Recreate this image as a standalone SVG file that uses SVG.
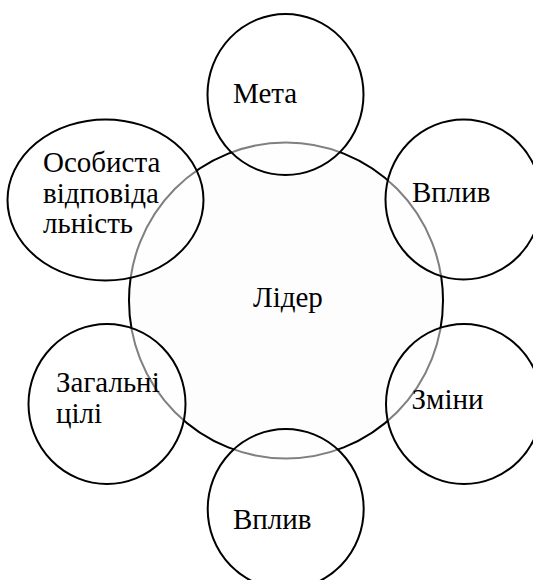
<svg xmlns="http://www.w3.org/2000/svg" width="533" height="580" viewBox="0 0 533 580" font-family="'Liberation Serif', serif" font-size="29">
<style>
.big{fill:#fdfdfd;stroke:#000;stroke-width:2}
.sm{fill:#fff;fill-opacity:0.5;stroke:#000;stroke-width:2}
</style>
<rect width="533" height="580" fill="#fff"/>
<g id="leader">
<ellipse class="big" cx="286" cy="300.5" rx="157" ry="158"/>
<text x="253" y="307" font-family="Liberation Serif">Лідер</text>
</g>
<g id="connectors"></g>
<g id="meta">
<ellipse class="sm" cx="285.5" cy="94.5" rx="78" ry="80.5"/>
<text x="233" y="103" font-family="Liberation Serif">Мета</text>
</g>
<g id="osob">
<ellipse class="sm" cx="105.5" cy="200" rx="98" ry="80.5"/>
<text x="43" y="172" font-family="Liberation Serif">Особиста</text>
<text x="43" y="203" font-family="Liberation Serif">відповіда</text>
<text x="43" y="233" font-family="Liberation Serif">льність</text>
</g>
<g id="vplyv1">
<ellipse class="sm" cx="463.5" cy="199.5" rx="78" ry="80"/>
<text x="412" y="202" font-family="Liberation Serif">Вплив</text>
</g>
<g id="zagalni">
<ellipse class="sm" cx="107" cy="404" rx="78.5" ry="80"/>
<text x="56" y="392" font-family="Liberation Serif">Загальні</text>
<text x="56" y="423" font-family="Liberation Serif">цілі</text>
</g>
<g id="zminy">
<ellipse class="sm" cx="464" cy="404" rx="78" ry="80"/>
<text x="411.5" y="408.5" font-family="Liberation Serif">Зміни</text>
</g>
<g id="vplyv2">
<ellipse class="sm" cx="285.7" cy="509" rx="78" ry="80"/>
<text x="233" y="528.5" font-family="Liberation Serif">Вплив</text>
</g>
</svg>
